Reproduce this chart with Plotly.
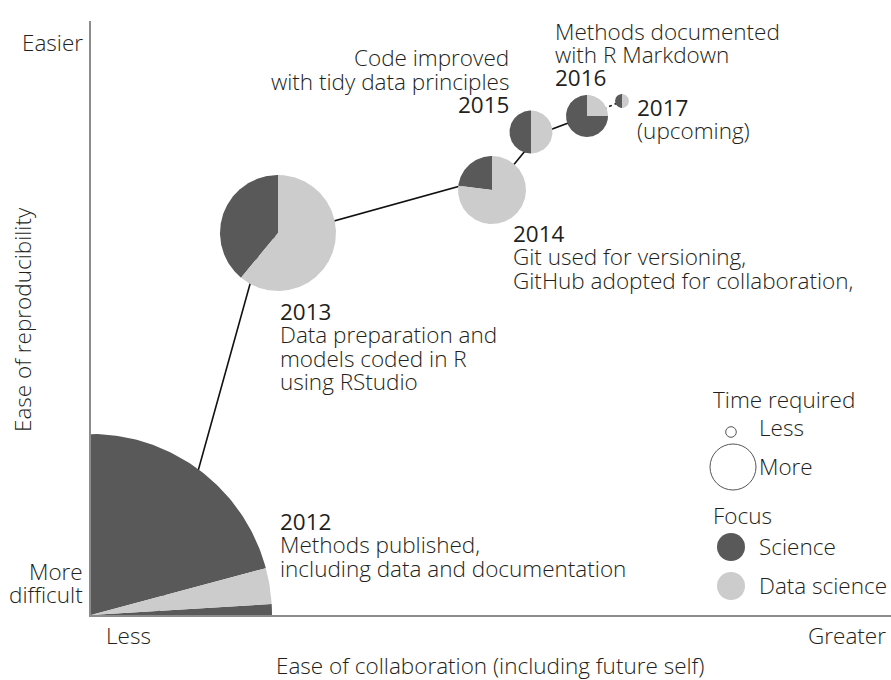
import math
import plotly.graph_objects as go

# ---------------- data ----------------
years = [2012, 2013, 2014, 2015, 2016, 2017]
collaboration = [0.0, 1.87, 4.01, 4.40, 4.96, 5.31]      # ease of collaboration (pie centre)
reproducibility = [0.0, 3.82, 4.25, 4.83, 4.99, 5.14]    # ease of reproducibility (pie centre)
time_required = [1.81, 0.58, 0.34, 0.215, 0.21, 0.07]   # pie radius
science_share = [0.968, 0.39, 0.23, 0.50, 0.75, 0.50]   # share of focus on science

# trajectory line through the years
path_x = [0.67, 1.71, 4.16, 4.48, 4.96, 5.31]
path_y = [0.0, 3.74, 4.42, 4.81, 4.99, 5.14]

descriptions = {
    2012: ["2012", "Methods published,", "including data and documentation"],
    2013: ["2013", "Data preparation and", "models coded in R", "using RStudio"],
    2014: ["2014", "Git used for versioning,", "GitHub adopted for collaboration,"],
    2015: ["Code improved", "with tidy data principles", "2015"],
    2016: ["Methods documented", "with R Markdown", "2016"],
    2017: ["2017", "(upcoming)"],
}

# ---------------- style ----------------
DARK = "#595959"
LIGHT = "#cccccc"
TEXT = "#231f20"
FONT = "Open Sans"
FS = 22.5
start_angle = [15, 90, 90, 90, 90, 90]   # where the science slice starts (deg, ccw from east)

W, H = 891, 680
L, R, T, B = 91, 0, 21, 65
PW, PH = W - L - R, H - T - B
UNIT = 100.0  # pixels per data unit on both axes


def wedge(cx, cy, r, a0, a1):
    n = max(4, int(abs(a1 - a0)))
    xs, ys = [cx], [cy]
    for i in range(n + 1):
        a = math.radians(a0 + (a1 - a0) * i / n)
        xs.append(cx + r * math.cos(a))
        ys.append(cy + r * math.sin(a))
    xs.append(cx)
    ys.append(cy)
    return xs, ys


fig = go.Figure()

# trajectory line (solid up to 2016, dotted to 2017)
fig.add_trace(go.Scatter(x=path_x[:5], y=path_y[:5], mode="lines",
                         line=dict(color="#111111", width=1.6),
                         hoverinfo="skip", showlegend=False))
fig.add_trace(go.Scatter(x=path_x[4:], y=path_y[4:], mode="lines",
                         line=dict(color="#111111", width=1.6, dash="dot"),
                         hoverinfo="skip", showlegend=False))

# pies
for i, yr in enumerate(years):
    cx, cy, r = collaboration[i], reproducibility[i], time_required[i]
    s = science_share[i] * 360.0
    a0 = start_angle[i]
    for (b0, b1, col) in [(a0, a0 + s, DARK), (a0 + s, a0 + 360.0, LIGHT)]:
        xs, ys = wedge(cx, cy, r, b0, b1)
        fig.add_trace(go.Scatter(x=xs, y=ys, mode="lines", fill="toself",
                                 fillcolor=col, line=dict(width=0, color=col),
                                 hoverinfo="skip", showlegend=False))


def px(x):
    return (x - L) / PW


def py(y):
    return (H - B - y) / PH


annotations = []


def add_lines(lines, x, y0, anchor="left", spacing=23.5, size=FS, weight=300):
    for k, t in enumerate(lines):
        w = 400 if t.isdigit() else weight
        annotations.append(dict(
            text=t, x=px(x), y=py(y0 + k * spacing), xref="paper", yref="paper",
            xanchor=anchor, yanchor="middle", showarrow=False,
            font=dict(family=FONT, size=size, color=TEXT, weight=w)))


# year labels
add_lines(descriptions[2012], 278, 521)
add_lines(descriptions[2013], 278, 311)
add_lines(descriptions[2014], 511, 233)
add_lines(descriptions[2015], 511, 57.5, anchor="right")
add_lines(descriptions[2016], 553, 31)
add_lines(descriptions[2017], 635, 107)

# axis end labels
add_lines(["Easier"], 85, 42, anchor="right")
add_lines(["More", "difficult"], 85, 571, anchor="right")
add_lines(["Less"], 104, 635)
add_lines(["Greater"], 888, 635, anchor="right")

# axis titles
annotations.append(dict(text="Ease of collaboration (including future self)",
                        x=px(490), y=py(665), xref="paper", yref="paper",
                        xanchor="center", yanchor="middle", showarrow=False,
                        font=dict(family=FONT, size=FS, color=TEXT, weight=300)))
annotations.append(dict(text="Ease of reproducibility", textangle=-90,
                        x=px(22), y=py(320), xref="paper", yref="paper",
                        xanchor="center", yanchor="middle", showarrow=False,
                        font=dict(family=FONT, size=FS, color=TEXT, weight=300)))

# legend texts
add_lines(["Time required"], 711, 400)
add_lines(["Less"], 757, 428)
add_lines(["More"], 757, 466)
add_lines(["Focus"], 711, 515)
add_lines(["Science"], 757, 546)
add_lines(["Data science"], 757, 585)

# legend circles
shapes = []


def circle(cx, cy, r, fill, line_col, lw):
    shapes.append(dict(type="circle", xref="paper", yref="paper",
                       xsizemode="pixel", ysizemode="pixel",
                       xanchor=px(cx), yanchor=py(cy),
                       x0=-r, x1=r, y0=-r, y1=r,
                       fillcolor=fill, line=dict(color=line_col, width=lw)))


circle(731, 432, 5.3, "white", "#555555", 1)
circle(733, 467, 23, "white", "#555555", 1)
circle(731, 547, 14, DARK, DARK, 0)
circle(731, 586, 14, LIGHT, LIGHT, 0)

fig.update_layout(
    width=W, height=H,
    margin=dict(l=L, r=R, t=T, b=B, pad=0),
    paper_bgcolor="white", plot_bgcolor="white",
    showlegend=False,
    xaxis=dict(range=[0, PW / UNIT], showgrid=False, zeroline=False,
               showticklabels=False, ticks="", showline=True,
               linecolor="#8c8c8c", linewidth=1.6, fixedrange=True),
    yaxis=dict(range=[0, PH / UNIT], showgrid=False, zeroline=False,
               showticklabels=False, ticks="", showline=True,
               linecolor="#8c8c8c", linewidth=1.6, fixedrange=True),
    annotations=annotations,
    shapes=shapes,
)

fig.write_html("out.html", config={"displayModeBar": False},
               post_script="document.body.style.margin='0';")
